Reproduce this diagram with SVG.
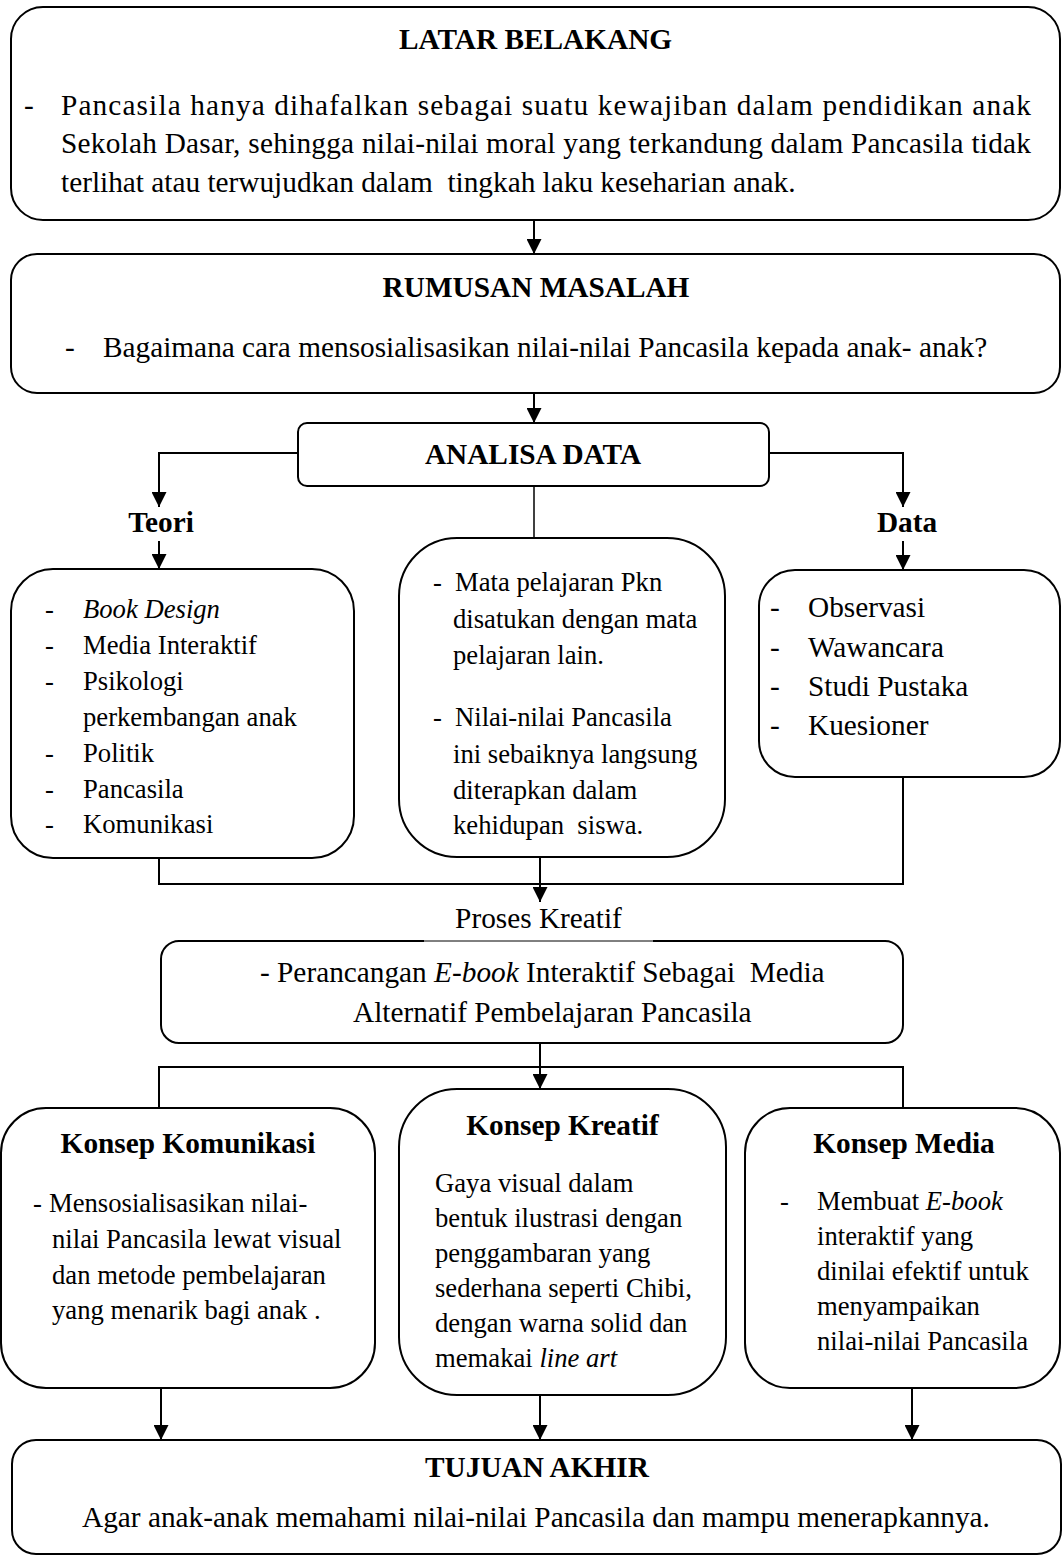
<svg xmlns="http://www.w3.org/2000/svg" width="1062" height="1555" viewBox="0 0 1062 1555">
<style>
.box{fill:#fff;stroke:#000;stroke-width:2}
.ln{fill:none;stroke:#000;stroke-width:2}
.t{font-family:"Liberation Serif","Times New Roman",serif;fill:#000}
.b{font-weight:bold;font-size:29.3px;text-anchor:middle}
.m{font-size:29.3px}
.s{font-size:26.67px}
.c{text-anchor:middle}
.i{font-style:italic}
.pre{white-space:pre}
</style>
<defs>
<marker id="ah" viewBox="0 0 10 10" refX="10" refY="5" markerWidth="15" markerHeight="15" markerUnits="userSpaceOnUse" orient="auto"><path d="M0,0 L10,5 L0,10 z" fill="#000"/></marker>
</defs>
<rect width="1062" height="1555" fill="#fff"/>

<g id="connectors">
<path class="ln" d="M534,220 V254" marker-end="url(#ah)"/>
<path class="ln" d="M534,393 V423" marker-end="url(#ah)"/>
<path class="ln" d="M298,453 H159 V507" marker-end="url(#ah)"/>
<path class="ln" d="M769,453 H903 V507" marker-end="url(#ah)"/>
<path class="ln" d="M534,486 V538" style="stroke-width:1.5"/>
<path class="ln" d="M159,541 V569" marker-end="url(#ah)"/>
<path class="ln" d="M903,541 V570" marker-end="url(#ah)"/>
<path class="ln" d="M159,858 V884 H903 V777"/>
<path class="ln" d="M540,857 V902" marker-end="url(#ah)"/>
<path class="ln" d="M540,1043 V1089" marker-end="url(#ah)"/>
<path class="ln" d="M159,1108 V1067 H903 V1108"/>
<path class="ln" d="M161,1388 V1440" marker-end="url(#ah)"/>
<path class="ln" d="M540,1388 V1440" marker-end="url(#ah)"/>
<path class="ln" d="M912,1388 V1440" marker-end="url(#ah)"/>
</g>

<g id="latar-belakang">
<rect class="box" x="11" y="7" width="1049" height="213" rx="32" ry="32"/>
<text class="t b" x="535.5" y="49">LATAR BELAKANG</text>
<text class="t m" x="24" y="115">-</text>
<text class="t m" x="61" y="115" textLength="970" lengthAdjust="spacing">Pancasila hanya dihafalkan sebagai suatu kewajiban dalam pendidikan anak</text>
<text class="t m" x="61" y="153" textLength="970" lengthAdjust="spacing">Sekolah Dasar, sehingga nilai-nilai moral yang terkandung dalam Pancasila tidak</text>
<text class="t m pre" x="61" y="192">terlihat atau terwujudkan dalam  tingkah laku keseharian anak.</text>
</g>

<g id="rumusan-masalah">
<rect class="box" x="11" y="254" width="1049" height="139" rx="26" ry="26"/>
<text class="t b" x="536" y="297">RUMUSAN MASALAH</text>
<text class="t m" x="65" y="357">-</text>
<text class="t m" x="103" y="357">Bagaimana cara mensosialisasikan nilai-nilai Pancasila kepada anak- anak?</text>
</g>

<g id="analisa-data">
<rect class="box" x="298" y="423" width="471" height="63" rx="9" ry="9"/>
<text class="t b" x="533" y="464">ANALISA DATA</text>
</g>

<g id="label-teori">
<text class="t b" x="161" y="532">Teori</text>
</g>
<g id="label-data">
<text class="t b" x="907" y="532">Data</text>
</g>

<g id="teori">
<rect class="box" x="11" y="569" width="343" height="289" rx="42" ry="42"/>
<g class="t s">
<text x="45" y="618">-</text><text x="83" y="618" class="i">Book Design</text>
<text x="45" y="654">-</text><text x="83" y="654">Media Interaktif</text>
<text x="45" y="690">-</text><text x="83" y="690">Psikologi</text>
<text x="83" y="726">perkembangan anak</text>
<text x="45" y="762">-</text><text x="83" y="762">Politik</text>
<text x="45" y="798">-</text><text x="83" y="798">Pancasila</text>
<text x="45" y="833">-</text><text x="83" y="833">Komunikasi</text>
</g>
</g>

<g id="analisa-tengah">
<rect class="box" x="399" y="538" width="326" height="319" rx="58" ry="58"/>
<g class="t s">
<text x="433" y="591">-</text><text x="455" y="591">Mata pelajaran Pkn</text>
<text x="453" y="628">disatukan dengan mata</text>
<text x="453" y="664">pelajaran lain.</text>
<text x="433" y="726">-</text><text x="455" y="726">Nilai-nilai Pancasila</text>
<text x="453" y="763">ini sebaiknya langsung</text>
<text x="453" y="799">diterapkan dalam</text>
<text x="453" y="834" class="pre">kehidupan  siswa.</text>
</g>
</g>

<g id="data">
<rect class="box" x="759" y="570" width="301" height="207" rx="36" ry="36"/>
<g class="t m">
<text x="770" y="617">-</text><text x="808" y="617">Observasi</text>
<text x="770" y="657">-</text><text x="808" y="657">Wawancara</text>
<text x="770" y="696">-</text><text x="808" y="696">Studi Pustaka</text>
<text x="770" y="735">-</text><text x="808" y="735">Kuesioner</text>
</g>
</g>

<g id="proses-kreatif">
<text class="t m c" x="538.5" y="928">Proses Kreatif</text>
</g>

<g id="perancangan">
<rect class="box" x="161" y="941" width="742" height="102" rx="18" ry="18"/>
<line x1="424" y1="941" x2="653" y2="941" stroke="#fff" stroke-width="3"/>
<line x1="423" y1="941" x2="654" y2="941" stroke="#000" stroke-width="1"/>
<text class="t m pre" x="260" y="982">- Perancangan <tspan class="i">E-book</tspan> Interaktif Sebagai  Media</text>
<text class="t m" x="353" y="1022">Alternatif Pembelajaran Pancasila</text>
</g>

<g id="konsep-komunikasi">
<rect class="box" x="1" y="1108" width="374" height="280" rx="45" ry="45"/>
<text class="t b" x="188" y="1153">Konsep Komunikasi</text>
<g class="t s">
<text x="33" y="1212">-</text><text x="49" y="1212">Mensosialisasikan nilai-</text>
<text x="52" y="1248">nilai Pancasila lewat visual</text>
<text x="52" y="1284">dan metode pembelajaran</text>
<text x="52" y="1319">yang menarik bagi anak .</text>
</g>
</g>

<g id="konsep-kreatif">
<rect class="box" x="399" y="1089" width="327" height="306" rx="58" ry="58"/>
<text class="t b" x="562.5" y="1135">Konsep Kreatif</text>
<g class="t s">
<text x="435" y="1192">Gaya visual dalam</text>
<text x="435" y="1227">bentuk ilustrasi dengan</text>
<text x="435" y="1262">penggambaran yang</text>
<text x="435" y="1297">sederhana seperti Chibi,</text>
<text x="435" y="1332">dengan warna solid dan</text>
<text x="435" y="1367">memakai <tspan class="i">line art</tspan></text>
</g>
</g>

<g id="konsep-media">
<rect class="box" x="745" y="1108" width="315" height="280" rx="45" ry="45"/>
<text class="t b" x="904" y="1153">Konsep Media</text>
<g class="t s">
<text x="780" y="1210">-</text><text x="817" y="1210">Membuat <tspan class="i">E-book</tspan></text>
<text x="817" y="1245">interaktif yang</text>
<text x="817" y="1280">dinilai efektif untuk</text>
<text x="817" y="1315">menyampaikan</text>
<text x="817" y="1350">nilai-nilai Pancasila</text>
</g>
</g>

<g id="tujuan-akhir">
<rect class="box" x="12" y="1440" width="1049" height="114" rx="24" ry="24"/>
<text class="t b" x="537" y="1477">TUJUAN AKHIR</text>
<text class="t m c" x="536" y="1527">Agar anak-anak memahami nilai-nilai Pancasila dan mampu menerapkannya.</text>
</g>
</svg>
